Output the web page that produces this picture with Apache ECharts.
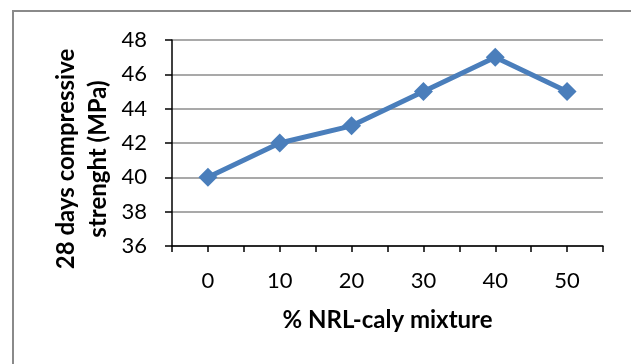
<!DOCTYPE html>
<html>
<head>
<meta charset="utf-8">
<script src="https://cdn.jsdelivr.net/npm/echarts@6/dist/echarts.min.js"></script>
<style>
  html, body { margin: 0; padding: 0; background: #fff; }
  #chart { width: 631px; height: 364px; }
</style>
</head>
<body>
<div id="chart"></div>
<script>
// NRL-clay content (%) and the matching 28-day compressive strength (MPa)
const mixPercent = [0, 10, 20, 30, 40, 50];
const strength = [40, 42, 43, 45, 47, 45];
const yTicks = [36, 38, 40, 42, 44, 46, 48];

const xTitle = '% NRL-caly mixture';
const yTitleLines = ['28 days compressive', 'strenght (MPa)'];

const FONT = 'Lato, "Open Sans", sans-serif';
const chart = echarts.init(document.getElementById('chart'), null, { renderer: 'canvas' });

chart.setOption({
  animation: false,
  backgroundColor: '#ffffff',
  grid: { left: 172, right: 28, top: 40, bottom: 118, containLabel: false },
  xAxis: {
    type: 'value',
    min: -5,
    max: 55,
    interval: 5,
    axisLine: { show: true, onZero: false, lineStyle: { color: '#000', width: 1.5 } },
    axisTick: { show: true, length: 6, lineStyle: { color: '#000', width: 1.5 } },
    splitLine: { show: false },
    axisLabel: {
      margin: 24,
      fontFamily: FONT,
      fontSize: 22,
      color: '#000',
      formatter: v => (mixPercent.indexOf(v) >= 0 ? String(v) : '')
    },
    name: xTitle,
    nameLocation: 'middle',
    nameGap: 62,
    nameTextStyle: { fontFamily: FONT, fontSize: 24, fontWeight: 'bold', color: '#000' }
  },
  yAxis: {
    type: 'value',
    min: yTicks[0],
    max: yTicks[yTicks.length - 1],
    interval: 2,
    axisLine: { show: true, onZero: false, lineStyle: { color: '#000', width: 1.5 } },
    axisTick: { show: true, length: 7, lineStyle: { color: '#000', width: 1.5 } },
    splitLine: { show: true, lineStyle: { color: '#8c8c8c', width: 1.5 } },
    axisLabel: {
      margin: 25,
      fontFamily: FONT,
      fontSize: 22,
      color: '#000'
    }
  },
  series: [{
    type: 'line',
    data: mixPercent.map((x, i) => [x, strength[i]]),
    symbol: 'diamond',
    symbolSize: 19,
    lineStyle: { color: '#4a7ebb', width: 5 },
    itemStyle: { color: '#4a7ebb' },
    z: 5
  }],
  graphic: [
    {
      type: 'rect',
      silent: true,
      shape: { x: 13, y: 11, width: 700, height: 420 },
      style: { fill: 'none', stroke: '#8a8a8a', lineWidth: 2 }
    },
    {
      type: 'text',
      silent: true,
      x: 82,
      y: 159,
      rotation: Math.PI / 2,
      style: {
        text: yTitleLines.join('\n'),
        fontFamily: FONT,
        fontSize: 24,
        fontWeight: 'bold',
        lineHeight: 32,
        fill: '#000',
        align: 'center',
        verticalAlign: 'middle'
      }
    }
  ]
});
</script>
</body>
</html>
